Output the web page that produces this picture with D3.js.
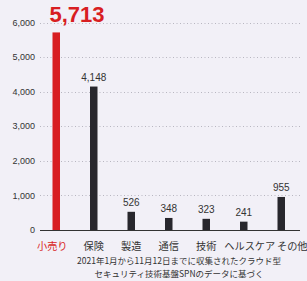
<!DOCTYPE html>
<html><head><meta charset="utf-8">
<script src="https://cdn.jsdelivr.net/npm/d3@7"></script>
<style>
html,body{margin:0;padding:0;background:#f2f0f7;}
svg{display:block;font-family:"Noto Sans CJK JP","Liberation Sans",sans-serif;}
</style></head>
<body>
<svg id="c" width="307" height="281"></svg>
<script>
const categories = ["小売り","保険","製造","通信","技術","ヘルスケア","その他"];
const values = [5713,4148,526,348,323,241,955];
const yTicks = [0,1000,2000,3000,4000,5000,6000];
const footnote = ["2021年1月から11月12日までに収集されたクラウド型","セキュリティ技術基盤SPNのデータに基づく"];

const svg = d3.select("#c");
const W = 307, H = 281;
svg.append("rect").attr("width",W).attr("height",H).attr("fill","#f2f0f7");

const x = d3.scaleBand().domain(categories).range([37.5,300]).paddingInner(0.8).paddingOuter(0.4);
const y = d3.scaleLinear().domain([0,6000]).range([230,22.5]);

// grid
const grid = svg.append("g");
grid.selectAll("line").data(yTicks.filter(d=>d>0)).join("line")
  .attr("x1",40).attr("x2",301)
  .attr("y1",d=>Math.round(y(d))+0.5).attr("y2",d=>Math.round(y(d))+0.5)
  .attr("stroke","#b8b6c0").attr("stroke-width",1).attr("stroke-dasharray","1,2.5");

// y labels
svg.append("g").selectAll("text").data(yTicks).join("text")
  .attr("x",35).attr("y",d=>y(d)).attr("dy","0.35em")
  .attr("text-anchor","end").attr("font-size",9).attr("fill","#333")
  .style("font-family","Liberation Sans, Arial, sans-serif")
  .text(d=>d3.format(",")(d));

// bars
svg.append("g").selectAll("rect").data(values).join("rect")
  .attr("x",(d,i)=>x(categories[i]))
  .attr("width",x.bandwidth())
  .attr("y",d=>y(d))
  .attr("height",d=>y(0)-y(d))
  .attr("fill",(d,i)=>i===0?"#d81e22":"#28272d");

// baseline
svg.append("line").attr("x1",40).attr("x2",300).attr("y1",230.5).attr("y2",230.5)
  .attr("stroke","#333").attr("stroke-width",1);

// value labels
svg.append("g").selectAll("text").data(values).join("text")
  .attr("x",(d,i)=> i===0 ? x(categories[i])-3 : x(categories[i])+x.bandwidth()/2)
  .attr("y",(d,i)=> i===0 ? 22 : y(d)-6)
  .attr("text-anchor",(d,i)=> i===0?"start":"middle")
  .attr("font-size",(d,i)=> i===0?22:10)
  .attr("font-weight",(d,i)=> i===0?"bold":"normal")
  .attr("fill",(d,i)=> i===0?"#d81e22":"#333")
  .style("font-family","Liberation Sans, Arial, sans-serif")
  .text(d=>d3.format(",")(d));

// category labels (last two nudged right so they don't collide, as in the original)
const labelNudge = i => (i===0 ? -4 : i===5 ? 6 : i===6 ? 11 : 0);
svg.append("g").selectAll("text").data(categories).join("text")
  .attr("x",(d,i)=>x(d)+x.bandwidth()/2+labelNudge(i)).attr("y",246).attr("dy","0.35em")
  .attr("text-anchor","middle").attr("font-size",10.2)
  .attr("fill",(d,i)=>i===0?"#d81e22":"#333")
  .text(d=>d);

// footnote
svg.append("g").selectAll("text").data(footnote).join("text")
  .attr("x",179).attr("y",(d,i)=>261+i*13.5).attr("dy","0.35em")
  .attr("text-anchor","middle").attr("font-size",8.5).attr("fill","#333")
  .text(d=>d);
</script>
</body></html>
